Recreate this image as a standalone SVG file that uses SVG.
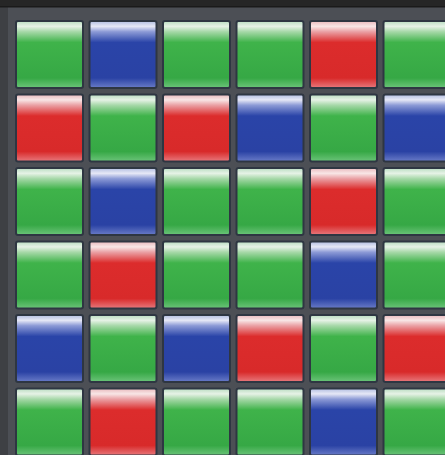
<svg xmlns="http://www.w3.org/2000/svg" width="445" height="455" viewBox="0 0 445 455">
<defs>
<linearGradient id="gG" x1="0" y1="0" x2="0" y2="1">
<stop offset="0" stop-color="#b8dcc0"/>
<stop offset="0.08" stop-color="#e6f2e6"/>
<stop offset="0.16" stop-color="#a6d8a8"/>
<stop offset="0.32" stop-color="#3fb34a"/>
<stop offset="0.85" stop-color="#36a845"/>
<stop offset="1" stop-color="#6cc47a"/>
</linearGradient>
<linearGradient id="gB" x1="0" y1="0" x2="0" y2="1">
<stop offset="0" stop-color="#b0bce0"/>
<stop offset="0.08" stop-color="#e6e8f6"/>
<stop offset="0.16" stop-color="#8c9ad6"/>
<stop offset="0.32" stop-color="#2a44a8"/>
<stop offset="0.85" stop-color="#2a42a4"/>
<stop offset="1" stop-color="#6a7cc8"/>
</linearGradient>
<linearGradient id="gR" x1="0" y1="0" x2="0" y2="1">
<stop offset="0" stop-color="#e8b8bc"/>
<stop offset="0.08" stop-color="#f8e6e6"/>
<stop offset="0.16" stop-color="#eaa0a4"/>
<stop offset="0.32" stop-color="#dc2c2c"/>
<stop offset="0.85" stop-color="#d82a2a"/>
<stop offset="1" stop-color="#e87a7e"/>
</linearGradient>
<style>
rect.c{stroke:#2e3642;stroke-width:2}
.G{fill:url(#gG)}.B{fill:url(#gB)}.R{fill:url(#gR)}
</style>
</defs>
<rect width="445" height="455" fill="#4c4f55"/>
<rect width="8" height="455" fill="#3e4044"/>
<rect width="445" height="6" fill="#262626"/>
<rect y="6" width="445" height="1.5" fill="#1a1a1a"/>
<g id="row0">
<rect class="c G" x="16" y="21" width="67" height="67" rx="2"/>
<rect class="c B" x="89.5" y="21" width="67" height="67" rx="2"/>
<rect class="c G" x="163" y="21" width="67" height="67" rx="2"/>
<rect class="c G" x="236.5" y="21" width="67" height="67" rx="2"/>
<rect class="c R" x="310" y="21" width="67" height="67" rx="2"/>
<rect class="c G" x="383.5" y="21" width="67" height="67" rx="2"/>
</g>
<g id="row1">
<rect class="c R" x="16" y="94.5" width="67" height="67" rx="2"/>
<rect class="c G" x="89.5" y="94.5" width="67" height="67" rx="2"/>
<rect class="c R" x="163" y="94.5" width="67" height="67" rx="2"/>
<rect class="c B" x="236.5" y="94.5" width="67" height="67" rx="2"/>
<rect class="c G" x="310" y="94.5" width="67" height="67" rx="2"/>
<rect class="c B" x="383.5" y="94.5" width="67" height="67" rx="2"/>
</g>
<g id="row2">
<rect class="c G" x="16" y="168" width="67" height="67" rx="2"/>
<rect class="c B" x="89.5" y="168" width="67" height="67" rx="2"/>
<rect class="c G" x="163" y="168" width="67" height="67" rx="2"/>
<rect class="c G" x="236.5" y="168" width="67" height="67" rx="2"/>
<rect class="c R" x="310" y="168" width="67" height="67" rx="2"/>
<rect class="c G" x="383.5" y="168" width="67" height="67" rx="2"/>
</g>
<g id="row3">
<rect class="c G" x="16" y="241.5" width="67" height="67" rx="2"/>
<rect class="c R" x="89.5" y="241.5" width="67" height="67" rx="2"/>
<rect class="c G" x="163" y="241.5" width="67" height="67" rx="2"/>
<rect class="c G" x="236.5" y="241.5" width="67" height="67" rx="2"/>
<rect class="c B" x="310" y="241.5" width="67" height="67" rx="2"/>
<rect class="c G" x="383.5" y="241.5" width="67" height="67" rx="2"/>
</g>
<g id="row4">
<rect class="c B" x="16" y="315" width="67" height="67" rx="2"/>
<rect class="c G" x="89.5" y="315" width="67" height="67" rx="2"/>
<rect class="c B" x="163" y="315" width="67" height="67" rx="2"/>
<rect class="c R" x="236.5" y="315" width="67" height="67" rx="2"/>
<rect class="c G" x="310" y="315" width="67" height="67" rx="2"/>
<rect class="c R" x="383.5" y="315" width="67" height="67" rx="2"/>
</g>
<g id="row5">
<rect class="c G" x="16" y="388.5" width="67" height="67" rx="2"/>
<rect class="c R" x="89.5" y="388.5" width="67" height="67" rx="2"/>
<rect class="c G" x="163" y="388.5" width="67" height="67" rx="2"/>
<rect class="c G" x="236.5" y="388.5" width="67" height="67" rx="2"/>
<rect class="c B" x="310" y="388.5" width="67" height="67" rx="2"/>
<rect class="c G" x="383.5" y="388.5" width="67" height="67" rx="2"/>
</g>
</svg>
